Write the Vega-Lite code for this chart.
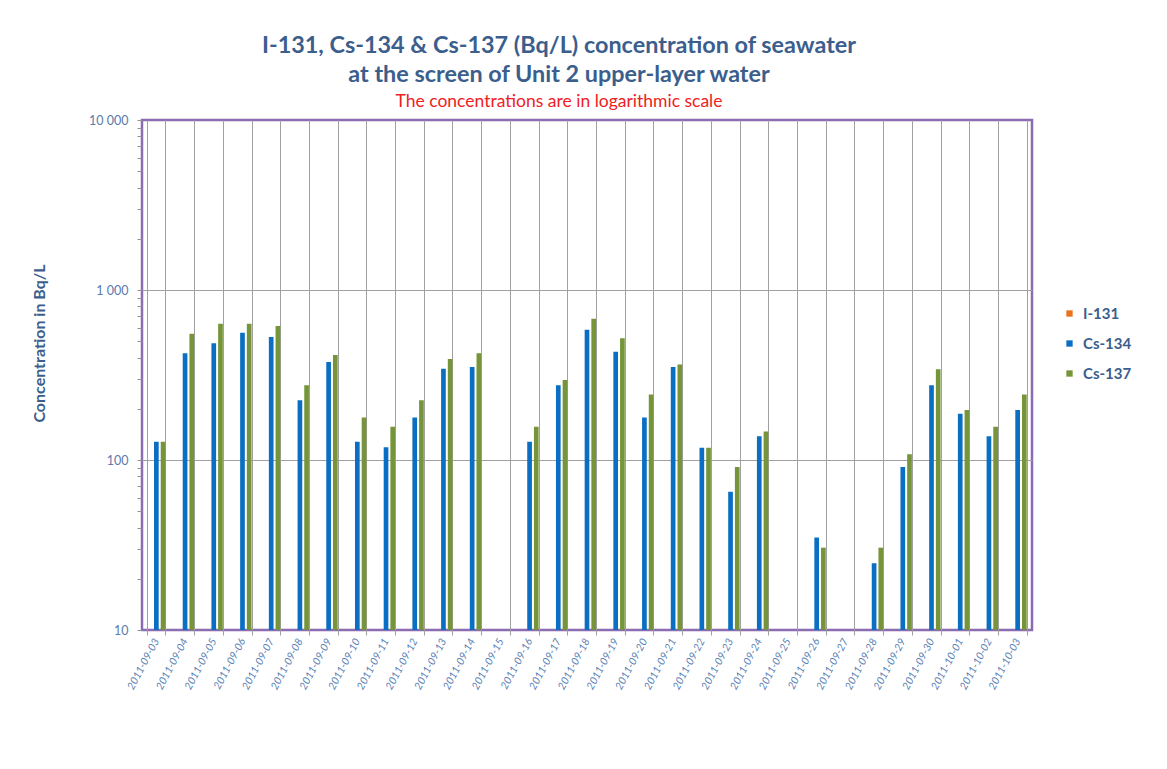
{
  "$schema": "https://vega.github.io/schema/vega-lite/v6.json",
  "width": 890,
  "height": 510,
  "autosize": {"type": "none"},
  "padding": {"left": 142, "top": 120, "right": 135, "bottom": 139},
  "background": "white",
  "title": {
    "text": ["I-131, Cs-134 & Cs-137 (Bq/L) concentration of seawater", "at the screen of Unit 2 upper-layer water"],
    "subtitle": "The concentrations are in logarithmic scale",
    "font": "Lato",
    "fontSize": 23.4,
    "fontWeight": "bold",
    "color": "#3B5E8C",
    "lineHeight": 29,
    "subtitleFont": "Lato",
    "subtitleFontSize": 17.5,
    "subtitleColor": "#F0201E",
    "subtitlePadding": 5,
    "anchor": "middle",
    "dx": -28,
    "offset": 3
  },
  "data": {
    "values": [
      {"date": "2011-09-03", "isotope": "Cs-134", "value": 128},
      {"date": "2011-09-03", "isotope": "Cs-137", "value": 128},
      {"date": "2011-09-04", "isotope": "Cs-134", "value": 424},
      {"date": "2011-09-04", "isotope": "Cs-137", "value": 553},
      {"date": "2011-09-05", "isotope": "Cs-134", "value": 486},
      {"date": "2011-09-05", "isotope": "Cs-137", "value": 634},
      {"date": "2011-09-06", "isotope": "Cs-134", "value": 561},
      {"date": "2011-09-06", "isotope": "Cs-137", "value": 634},
      {"date": "2011-09-07", "isotope": "Cs-134", "value": 529},
      {"date": "2011-09-07", "isotope": "Cs-137", "value": 614},
      {"date": "2011-09-08", "isotope": "Cs-134", "value": 225},
      {"date": "2011-09-08", "isotope": "Cs-137", "value": 275},
      {"date": "2011-09-09", "isotope": "Cs-134", "value": 377},
      {"date": "2011-09-09", "isotope": "Cs-137", "value": 415},
      {"date": "2011-09-10", "isotope": "Cs-134", "value": 128},
      {"date": "2011-09-10", "isotope": "Cs-137", "value": 178},
      {"date": "2011-09-11", "isotope": "Cs-134", "value": 119},
      {"date": "2011-09-11", "isotope": "Cs-137", "value": 157},
      {"date": "2011-09-12", "isotope": "Cs-134", "value": 178},
      {"date": "2011-09-12", "isotope": "Cs-137", "value": 225},
      {"date": "2011-09-13", "isotope": "Cs-134", "value": 344},
      {"date": "2011-09-13", "isotope": "Cs-137", "value": 393},
      {"date": "2011-09-14", "isotope": "Cs-134", "value": 352},
      {"date": "2011-09-14", "isotope": "Cs-137", "value": 424},
      {"date": "2011-09-16", "isotope": "Cs-134", "value": 128},
      {"date": "2011-09-16", "isotope": "Cs-137", "value": 157},
      {"date": "2011-09-17", "isotope": "Cs-134", "value": 275},
      {"date": "2011-09-17", "isotope": "Cs-137", "value": 296},
      {"date": "2011-09-18", "isotope": "Cs-134", "value": 584},
      {"date": "2011-09-18", "isotope": "Cs-137", "value": 678},
      {"date": "2011-09-19", "isotope": "Cs-134", "value": 434},
      {"date": "2011-09-19", "isotope": "Cs-137", "value": 520},
      {"date": "2011-09-20", "isotope": "Cs-134", "value": 178},
      {"date": "2011-09-20", "isotope": "Cs-137", "value": 243},
      {"date": "2011-09-21", "isotope": "Cs-134", "value": 352},
      {"date": "2011-09-21", "isotope": "Cs-137", "value": 364},
      {"date": "2011-09-22", "isotope": "Cs-134", "value": 118},
      {"date": "2011-09-22", "isotope": "Cs-137", "value": 118},
      {"date": "2011-09-23", "isotope": "Cs-134", "value": 65},
      {"date": "2011-09-23", "isotope": "Cs-137", "value": 91},
      {"date": "2011-09-24", "isotope": "Cs-134", "value": 138},
      {"date": "2011-09-24", "isotope": "Cs-137", "value": 147},
      {"date": "2011-09-26", "isotope": "Cs-134", "value": 35},
      {"date": "2011-09-26", "isotope": "Cs-137", "value": 30.5},
      {"date": "2011-09-28", "isotope": "Cs-134", "value": 24.7},
      {"date": "2011-09-28", "isotope": "Cs-137", "value": 30.5},
      {"date": "2011-09-29", "isotope": "Cs-134", "value": 91},
      {"date": "2011-09-29", "isotope": "Cs-137", "value": 108},
      {"date": "2011-09-30", "isotope": "Cs-134", "value": 275},
      {"date": "2011-09-30", "isotope": "Cs-137", "value": 342},
      {"date": "2011-10-01", "isotope": "Cs-134", "value": 187},
      {"date": "2011-10-01", "isotope": "Cs-137", "value": 197},
      {"date": "2011-10-02", "isotope": "Cs-134", "value": 138},
      {"date": "2011-10-02", "isotope": "Cs-137", "value": 157},
      {"date": "2011-10-03", "isotope": "Cs-134", "value": 197},
      {"date": "2011-10-03", "isotope": "Cs-137", "value": 243}
    ]
  },
  "mark": {"type": "bar"},
  "encoding": {
    "x": {
      "field": "date",
      "type": "nominal",
      "scale": {
        "domain": ["2011-09-03","2011-09-04","2011-09-05","2011-09-06","2011-09-07","2011-09-08","2011-09-09","2011-09-10","2011-09-11","2011-09-12","2011-09-13","2011-09-14","2011-09-15","2011-09-16","2011-09-17","2011-09-18","2011-09-19","2011-09-20","2011-09-21","2011-09-22","2011-09-23","2011-09-24","2011-09-25","2011-09-26","2011-09-27","2011-09-28","2011-09-29","2011-09-30","2011-10-01","2011-10-02","2011-10-03"],
        "paddingInner": 0.37,
        "paddingOuter": 0.185
      },
      "axis": {
        "title": null,
        "domain": false,
        "tickBand": "extent",
        "grid": true,
        "gridColor": "#A0A0A0",
        "gridWidth": 1,
        "tickColor": "#A0A0A0",
        "tickSize": 5,
        "labelAngle": -62,
        "labelAlign": "right",
        "labelBaseline": "middle",
        "labelFont": "Lato",
        "labelFontSize": 10.5,
        "labelFontStyle": "italic",
        "labelColor": "#5A7FB5",
        "labelPadding": 4,
        "labelOverlap": false
      }
    },
    "xOffset": {
      "field": "isotope",
      "type": "nominal",
      "scale": {"domain": ["I-131", "Cs-134", "Cs-137"], "paddingInner": 0.3, "paddingOuter": 0}
    },
    "y": {
      "field": "value",
      "type": "quantitative",
      "scale": {"type": "log", "domain": [10, 10000], "nice": false},
      "axis": {
        "title": "Concentration in Bq/L",
        "titleFont": "Lato",
        "titleFontSize": 16,
        "titleFontWeight": "bold",
        "titleColor": "#3B5E8C",
        "titleX": -95,
        "titleY": 223,
        "values": [10,20,30,40,50,60,70,80,90,100,200,300,400,500,600,700,800,900,1000,2000,3000,4000,5000,6000,7000,8000,9000,10000],
        "labelExpr": "indexof([10,100,1000,10000], datum.value) >= 0 ? replace(format(datum.value, ','), ',', ' ') : ''",
        "labelFont": "Lato",
        "labelFontSize": 12.5,
        "labelColor": "#5A7AAE",
        "labelPadding": 9,
        "labelOverlap": false,
        "domain": false,
        "tickColor": "#909090",
        "tickSize": 5,
        "grid": true,
        "gridColor": "#A0A0A0",
        "gridOpacity": {"condition": {"test": "datum.value === 100 || datum.value === 1000", "value": 1}, "value": 0}
      }
    },
    "y2": {"datum": 10},
    "color": {
      "field": "isotope",
      "type": "nominal",
      "scale": {"domain": ["I-131", "Cs-134", "Cs-137"], "range": ["#E8731E", "#0A6FC2", "#76953A"]},
      "legend": {
        "title": null,
        "orient": "none",
        "legendX": 920,
        "legendY": 186,
        "symbolType": "square",
        "symbolSize": 40,
        "symbolStrokeWidth": 0,
        "labelFont": "Lato",
        "labelFontSize": 15,
        "labelFontWeight": "bold",
        "labelColor": "#3B5E8C",
        "labelOffset": 6,
        "rowPadding": 14
      }
    }
  },
  "config": {
    "view": {"stroke": "#8B6BB1", "strokeWidth": 2.5}
  }
}
